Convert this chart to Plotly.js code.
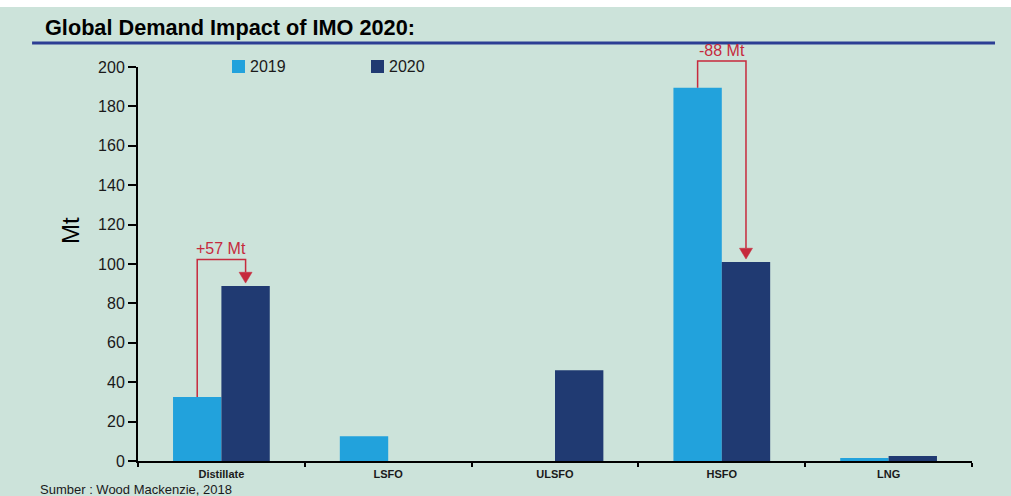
<!DOCTYPE html>
<html>
<head>
<meta charset="utf-8">
<script src="https://cdn.plot.ly/plotly-3.0.1.min.js"></script>
<style>
  html, body { margin: 0; padding: 0; background: #ffffff; width: 1011px; height: 496px; overflow: hidden; }
  #chart { position: absolute; left: 0; top: 7px; width: 1011px; height: 489px; }
</style>
</head>
<body>
<div id="chart"></div>
<script>
// ---- data ----
const categories = ['Distillate', 'LSFO', 'ULSFO', 'HSFO', 'LNG'];
const values2019 = [32.5, 12.6, null, 189.5, 1.5];
const values2020 = [88.8, null, 46.1, 101, 2.6];
const seriesNames = ['2019', '2020'];
const yTicks = [0, 20, 40, 60, 80, 100, 120, 140, 160, 180, 200];
const changeCategories = ['Distillate', 'HSFO'];
const changeLabels = ['+57 Mt', '-88 Mt'];

// ---- styles ----
const bg = '#cce3da';
const c2019 = '#22a2dc';
const c2020 = '#203a72';
const red = '#c62a3d';
const textCol = '#1a1a1a';
const font = 'Arial, "Liberation Sans", Helvetica, sans-serif';
const yMax = 200;
const bargap = 0.42;

const nCat = categories.length;
const half = (1 - bargap) / 4; // offset of each bar centre from category centre
const xp = (i, off) => (i + off + 0.5) / nCat;   // category index -> paper x
const yp = v => v / yMax;                          // value -> paper y

const traces = [
  { type: 'bar', name: seriesNames[0], x: categories, y: values2019, marker: { color: c2019, line: { width: 0 } } },
  { type: 'bar', name: seriesNames[1], x: categories, y: values2020, marker: { color: c2020, line: { width: 0 } } }
];

const shapes = [
  // title underline
  { type: 'line', xref: 'paper', yref: 'paper', x0: -0.127, x1: 1.0276, y0: 1.061, y1: 1.061,
    line: { color: '#2c3e94', width: 3 } },
  // legend swatches
  { type: 'rect', xref: 'paper', yref: 'paper', x0: 0.1127, x1: 0.1283, y0: 0.9848, y1: 1.0178,
    fillcolor: c2019, line: { width: 0 } },
  { type: 'rect', xref: 'paper', yref: 'paper', x0: 0.2794, x1: 0.2950, y0: 0.9848, y1: 1.0178,
    fillcolor: c2020, line: { width: 0 } }
];

const annotations = [
  { xref: 'paper', yref: 'paper', x: 0.1319, y: 1.0013, xanchor: 'left', yanchor: 'middle',
    text: seriesNames[0], showarrow: false, font: { family: font, size: 16, color: textCol } },
  { xref: 'paper', yref: 'paper', x: 0.2986, y: 1.0013, xanchor: 'left', yanchor: 'middle',
    text: seriesNames[1], showarrow: false, font: { family: font, size: 16, color: textCol } },
  // y axis title
  { xref: 'paper', yref: 'paper', x: -0.0803, y: 0.5838, xanchor: 'center', yanchor: 'middle',
    text: 'Mt', textangle: -90, showarrow: false, font: { family: font, size: 24, color: '#000000' } },
  // source
  { xref: 'paper', yref: 'paper', x: -0.1199, y: -0.0725, xanchor: 'left', yanchor: 'middle',
    text: 'Sumber : Wood Mackenzie, 2018', showarrow: false, font: { family: font, size: 13, color: textCol } }
];

// change brackets, built from the data
changeCategories.forEach((cat, k) => {
  const i = categories.indexOf(cat);
  const a = values2019[i], b = values2020[i];
  const xa = xp(i, -half), xb = xp(i, half);
  const top = Math.max(a, b) + 13.5;
  const headBase = b + 7, headTip = b + 1.5;
  const hw = 0.0078;
  shapes.push({
    type: 'path', xref: 'paper', yref: 'paper',
    path: `M${xa},${yp(a)} L${xa},${yp(top)} L${xb},${yp(top)} L${xb},${yp(headBase)}`,
    line: { color: red, width: 1.5 }
  });
  shapes.push({
    type: 'path', xref: 'paper', yref: 'paper',
    path: `M${xb - hw},${yp(headBase)} L${xb + hw},${yp(headBase)} L${xb},${yp(headTip)} Z`,
    fillcolor: red, line: { color: red, width: 0.5 }
  });
  annotations.push({
    xref: 'paper', yref: 'paper', x: (xa + xb) / 2, y: yp(top + 5.5), xanchor: 'center', yanchor: 'middle',
    text: changeLabels[k], showarrow: false, font: { family: font, size: 16, color: red }
  });
});

const layout = {
  width: 1011, height: 489,
  margin: { l: 138, r: 39, t: 60, b: 35, pad: 0 },
  paper_bgcolor: bg, plot_bgcolor: bg,
  showlegend: false,
  barmode: 'group', bargap: bargap, bargroupgap: 0,
  title: {
    text: '<b>Global Demand Impact of IMO 2020:</b>',
    xref: 'container', yref: 'container', x: 0.0445, xanchor: 'left', y: 0.959, yanchor: 'middle',
    font: { family: font, size: 21.7, color: '#000000' }
  },
  xaxis: {
    type: 'category', range: [-0.5, nCat - 0.5], fixedrange: true,
    showline: true, linecolor: '#000000', linewidth: 2,
    ticks: 'outside', tickson: 'boundaries', ticklen: 4, tickwidth: 2, tickcolor: '#000000',
    ticklabelstandoff: 2,
    showgrid: false, zeroline: false,
    tickfont: { family: font, size: 11, color: textCol, weight: 'bold' }
  },
  yaxis: {
    range: [0, yMax], tickvals: yTicks, fixedrange: true,
    showline: true, linecolor: '#000000', linewidth: 2,
    ticks: 'outside', ticklen: 8, tickwidth: 2, tickcolor: '#000000',
    showgrid: false, zeroline: false,
    tickfont: { family: font, size: 16, color: textCol }
  },
  shapes: shapes,
  annotations: annotations
};

Plotly.newPlot('chart', traces, layout, { staticPlot: true, displayModeBar: false });
</script>
</body>
</html>
